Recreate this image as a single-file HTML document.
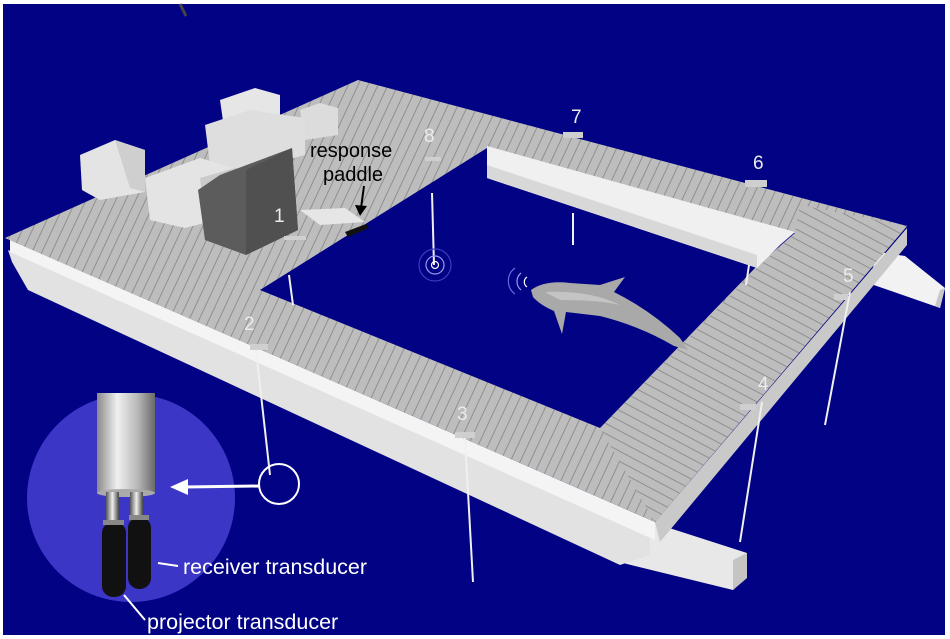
<!DOCTYPE html>
<html><head><meta charset="utf-8"><style>
html,body{margin:0;padding:0;background:#fff;}
svg{display:block;}
text{font-family:"Liberation Sans",sans-serif;}
</style></head><body>
<svg width="950" height="639" viewBox="0 0 950 639" xmlns="http://www.w3.org/2000/svg">
<defs>
<pattern id="pl" width="9" height="9" patternUnits="userSpaceOnUse" patternTransform="rotate(-62)">
<rect width="9" height="9" fill="#bdbdbd"/><rect width="1" height="9" fill="#8f8f8f"/>
</pattern>
<pattern id="pl2" width="9" height="9" patternUnits="userSpaceOnUse" patternTransform="rotate(25)">
<rect width="9" height="9" fill="#bdbdbd"/><rect width="1" height="9" fill="#8f8f8f"/>
</pattern>
<linearGradient id="cyl" x1="0" x2="1"><stop offset="0" stop-color="#8a8a8a"/><stop offset="0.35" stop-color="#f0f0f0"/><stop offset="0.7" stop-color="#b8b8b8"/><stop offset="1" stop-color="#6a6a6a"/></linearGradient>
<linearGradient id="stem" x1="0" x2="1"><stop offset="0" stop-color="#555"/><stop offset="0.5" stop-color="#eee"/><stop offset="1" stop-color="#444"/></linearGradient>
</defs>
<rect x="0" y="0" width="950" height="639" fill="#fff"/>
<rect x="3" y="4" width="942" height="631" fill="#020284"/>
<path d="M180,4 L186,16" stroke="#444" stroke-width="3"/>

<!-- pontoons -->
<polygon points="878,252 905,256 945,288 940,308 868,283" fill="#f2f2f2"/>
<polygon points="940,290 945,288 940,308 935,306" fill="#c8c8c8"/>
<polygon points="615,505 660,525 747,553 747,575 733,590 623,563" fill="#e8e8e8"/>
<polygon points="733,560 747,553 747,578 733,590" fill="#c4c4c4"/>
<!-- left front face / pontoon -->
<polygon points="8,250 650,535 650,555 620,565 28,290 12,262" fill="#e2e2e2"/>
<polygon points="10,240 655,522 655,540 10,252" fill="#f4f4f4"/>
<polygon points="655,522 907,228 907,245 660,542" fill="#c9c9c9"/>

<!-- deck top -->
<polygon points="5,238 358,80 907,226 655,522" fill="url(#pl2)"/>
<polygon points="800,205 907,226 655,522 600,428 757,268 795,233" fill="url(#pl)"/>
<!-- hole -->
<polygon points="260,290 487,148 795,233 757,266 600,428" fill="#020284"/>
<polygon points="487,146 795,232 780,245 757,268 487,178" fill="#f0f0f0"/>
<polygon points="487,165 757,255 757,268 487,178" fill="#d8d8d8"/>

<!-- boxes -->
<polygon points="80,155 115,140 145,150 145,192 100,200 82,190" fill="#e4e4e4"/>
<polygon points="115,140 145,150 145,192 130,188" fill="#cfcfcf"/>
<polygon points="220,100 255,88 280,95 280,130 225,135" fill="#e6e6e6"/>
<polygon points="300,110 320,103 338,108 338,135 305,140" fill="#dcdcdc"/>
<polygon points="205,125 250,110 305,118 305,155 250,170 210,165" fill="#dedede"/>
<polygon points="145,178 200,158 235,168 235,215 185,228 150,220" fill="#e4e4e4"/>
<polygon points="200,178 235,168 235,215 205,222" fill="#cacaca"/>
<polygon points="198,190 220,175 292,148 298,230 246,255 205,240" fill="#5c5c5c"/>
<polygon points="246,170 292,148 298,230 246,255" fill="#505050"/>
<polygon points="300,210 345,208 365,222 320,225" fill="#e6e6e6"/>
<polygon points="345,232 366,224 369,228 348,237" fill="#111"/>
<rect x="284" y="236" width="22" height="4" fill="#d0d0d0"/>

<!-- small mounts -->
<rect x="563" y="132" width="20" height="6" fill="#cfcfcf"/>
<rect x="745" y="180" width="22" height="7" fill="#cfcfcf"/>
<rect x="834" y="294" width="14" height="6" fill="#cfcfcf"/>
<rect x="740" y="404" width="16" height="6" fill="#cfcfcf"/>
<rect x="455" y="432" width="20" height="6" fill="#cfcfcf"/>
<rect x="250" y="344" width="18" height="6" fill="#cfcfcf"/>
<rect x="425" y="157" width="16" height="4" fill="#cfcfcf"/>

<!-- hydrophone lines -->
<g stroke="#f0f0f0" stroke-width="2">
<line x1="289" y1="275" x2="293" y2="305"/>
<line x1="256" y1="350" x2="270" y2="475"/>
<line x1="465" y1="438" x2="473" y2="582"/>
<line x1="762" y1="402" x2="740" y2="542"/>
<line x1="850" y1="292" x2="825" y2="425"/>
<line x1="749" y1="265" x2="746" y2="285"/>
<line x1="573" y1="213" x2="573" y2="245"/>
<line x1="432" y1="193" x2="434" y2="265"/>
</g>
<g fill="none" stroke="#9a9af0" stroke-width="1.2">
<circle cx="435" cy="265" r="16" stroke="#3a3ac0"/>
<circle cx="435" cy="265" r="9"/>
<circle cx="435" cy="265" r="3.5" stroke="#fff"/>
<path d="M515,268 A16,16 0 0 0 515,294" stroke="#6a6ae0"/>
<path d="M521,273 A11,11 0 0 0 521,290"/>
<path d="M527,277 A6,6 0 0 0 527,287" stroke="#fff"/>
</g>
<!-- dolphin -->
<path d="M531,290 Q545,280 570,283 L600,285 L625,277 L614,292 Q650,310 680,338 L688,350 L674,346 Q640,326 600,316 L566,312 L562,334 L554,311 Q540,305 533,297 Z" fill="#a9a9a9"/>
<path d="M545,292 Q590,290 620,305 Q600,300 560,300 Z" fill="#c4c4c4"/>

<!-- numbers -->
<g fill="#ececec" font-size="19">
<text x="274" y="222">1</text><text x="244" y="330">2</text><text x="457" y="420">3</text>
<text x="758" y="390">4</text><text x="843" y="282">5</text><text x="753" y="169">6</text>
<text x="571" y="123">7</text><text x="424" y="142">8</text>
</g>
<text x="310" y="157" font-size="20" fill="#000">response</text>
<text x="323" y="181" font-size="20" fill="#000">paddle</text>
<path d="M364,186 L361,208" stroke="#000" stroke-width="2"/>
<polygon points="355,205 367,206 360,216" fill="#000"/>

<!-- inset -->
<circle cx="131" cy="498" r="104" fill="#3b36c6"/>
<rect x="97" y="393" width="58" height="100" fill="url(#cyl)"/>
<ellipse cx="126" cy="493" rx="29" ry="4" fill="#aaa"/>
<rect x="106" y="492" width="13" height="36" fill="url(#stem)"/>
<rect x="130" y="492" width="13" height="32" fill="url(#stem)"/>
<rect x="102" y="522" width="24" height="75" rx="11" fill="#111"/>
<rect x="128" y="517" width="23" height="72" rx="11" fill="#111"/>
<rect x="103" y="520" width="21" height="5" fill="#888"/>
<rect x="129" y="515" width="20" height="5" fill="#888"/>
<circle cx="279" cy="484" r="20" fill="none" stroke="#fff" stroke-width="2"/>
<line x1="259" y1="486" x2="185" y2="487" stroke="#fff" stroke-width="3"/>
<polygon points="170,487 188,479 188,495" fill="#fff"/>
<line x1="158" y1="563" x2="178" y2="566" stroke="#fff" stroke-width="2"/>
<line x1="124" y1="595" x2="145" y2="620" stroke="#fff" stroke-width="2"/>
<text x="183" y="574" font-size="21.5" fill="#fff">receiver transducer</text>
<text x="147" y="629" font-size="21.5" fill="#fff">projector transducer</text>
</svg>
</body></html>
